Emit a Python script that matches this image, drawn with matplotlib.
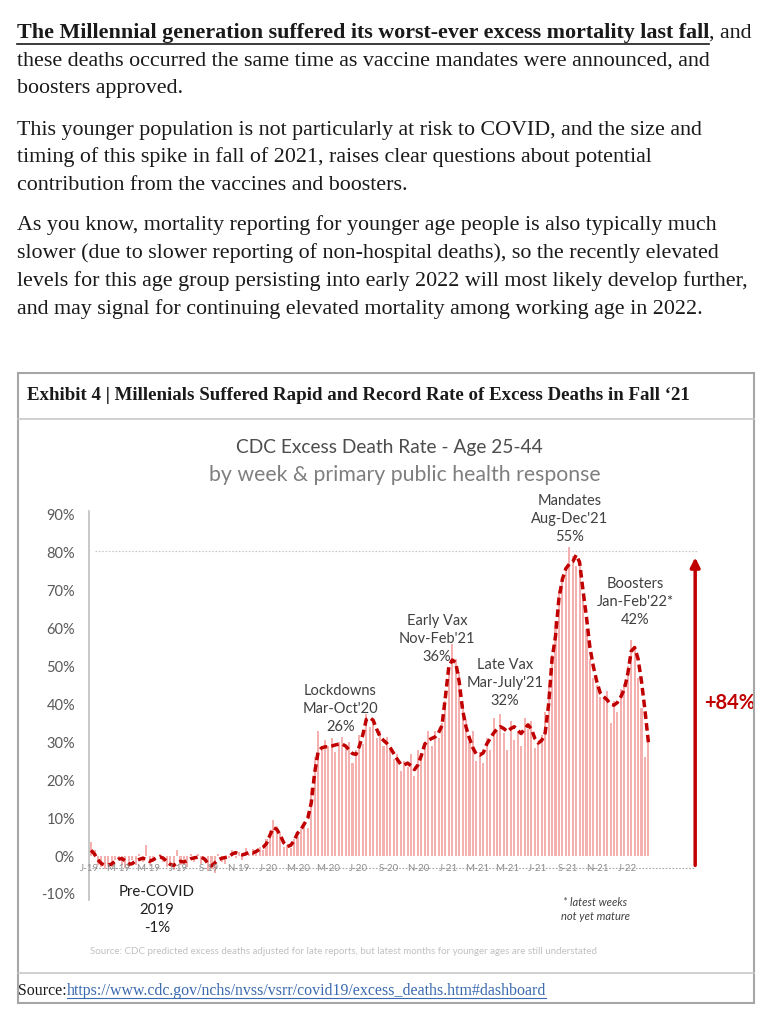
import matplotlib
matplotlib.use("Agg")
import matplotlib.pyplot as plt
import numpy as np
import pandas as pd
from matplotlib.lines import Line2D
from matplotlib.patches import Rectangle

# weekly excess death rate, age 25-44 (%), weeks from Jan 5 2019
bar_values = [
    3.8, 1.5, -2.5, -3.0, -3.5, -2.0, -3.0, -1.0, -0.5, -2.5,
    -3.2, -3.0, -1.0, -2.5, 0.5, -1.5, 2.8, -2.5, -1.5, 0.0,
    0.5, -1.5, -3.0, -2.5, -3.8, 1.5, -2.5, -1.0, -3.0, 0.5,
    -1.5, 0.5, -2.0, 0.0, -4.0, -3.5, -4.5, 0.5, -1.5, -2.0,
    -0.5, 1.5, -0.5, 1.0, -1.0, 2.0, 0.5, 1.8, 0.8, 2.5,
    1.5, 4.5, 6.5, 9.5, 8.0, 6.0, 2.5, 3.0, 2.0, 4.5,
    5.0, 7.0, 9.0, 7.5, 18.0, 26.0, 33.0, 28.0, 30.5, 29.0,
    31.0, 27.5, 30.0, 31.5, 28.5, 30.0, 24.5, 28.0, 32.0, 29.5,
    37.5, 34.0, 36.0, 31.0, 33.0, 29.0, 31.5, 28.0, 25.5, 27.0,
    22.5, 25.0, 23.5, 27.0, 21.0, 28.0, 25.5, 30.0, 33.0, 29.0,
    33.0, 31.0, 35.0, 41.0, 49.0, 56.0, 52.0, 48.5, 40.0, 36.0,
    30.0, 33.0, 25.0, 27.5, 24.5, 31.0, 28.0, 36.5, 33.0, 37.5,
    32.5, 28.0, 35.5, 30.5, 33.0, 29.0, 36.5, 33.5, 35.5, 28.5,
    30.0, 32.0, 38.0, 45.0, 53.0, 62.0, 70.0, 73.0, 76.0, 81.5,
    79.0, 76.5, 78.0, 68.0, 60.0, 52.0, 47.0, 45.0, 42.0, 41.5,
    43.5, 35.0, 41.0, 38.0, 44.0, 45.5, 50.0, 57.0, 55.0, 47.0,
    39.0, 26.0, 30.0,
]

# smoothed trend (dashed line)
trend_values = [
    1.5, 0.5, -1.0, -2.0, -2.4, -2.4, -2.1, -1.4, -0.8, -0.7,
    -1.3, -2.2, -2.0, -1.2, -0.9, -0.6, -0.8, -1.4, -1.0, -0.5,
    -0.2, -0.6, -1.4, -2.2, -2.5, -1.8, -1.4, -1.6, -1.2, -0.7,
    -0.5, -0.3, -0.3, -0.8, -2.0, -2.6, -1.8, -1.0, -0.6, -0.4,
    -0.2, 0.5, 0.9, 0.5, 0.3, 0.6, 1.0, 0.8, 1.2, 1.8,
    2.3, 3.3, 5.5, 7.5, 7.0, 5.5, 3.5, 2.5, 2.8, 4.0,
    6.0, 7.0, 8.5, 10.0, 14.0, 22.0, 27.5, 28.5, 28.8, 28.8,
    29.0, 29.3, 29.5, 29.5, 29.0, 28.0, 27.0, 26.8, 29.0, 32.0,
    36.0, 36.5, 35.8, 33.5, 31.5, 30.5, 29.7, 28.5, 27.0, 25.5,
    24.2, 24.0, 24.5, 23.8, 22.8, 24.0, 26.5, 29.5, 30.5, 31.0,
    31.4, 32.5, 34.4, 42.0, 50.0, 51.7, 51.0, 46.0, 38.5, 34.0,
    31.0, 28.5, 26.8, 26.6, 27.2, 29.5, 31.0, 32.4, 33.5, 34.1,
    33.6, 32.8, 33.6, 34.1, 33.2, 32.3, 33.5, 34.6, 33.5, 31.0,
    29.8, 30.5, 32.5, 40.0, 52.0, 58.0, 68.0, 73.0, 75.8, 77.0,
    77.6, 79.4, 77.5, 70.0, 63.0, 55.0, 50.0, 46.0, 43.0, 42.0,
    41.2, 40.0, 39.8, 40.5, 42.0, 44.0, 48.0, 54.0, 55.0, 52.0,
    46.0, 38.5, 30.0,
]

tick_labels = ["J-19", "M-19", "M-19", "J-19", "S-19", "N-19",
               "J-20", "M-20", "M-20", "J-20", "S-20", "N-20",
               "J-21", "M-21", "M-21", "J-21", "S-21", "N-21", "J-22"]
ytick_values = [-10, 0, 10, 20, 30, 40, 50, 60, 70, 80, 90]

phases = [
    ("Lockdowns\nMar-Oct'20\n26%", 72.4, 38.8),
    ("Early Vax\nNov-Feb'21\n36%", 100.6, 57.3),
    ("Late Vax\nMar-July'21\n32%", 120.3, 45.6),
    ("Mandates\nAug-Dec'21\n55%", 139.2, 88.9),
    ("Boosters\nJan-Feb'22*\n42%", 158.1, 67.0),
]

W, H = 775, 1024
fig = plt.figure(figsize=(7.75, 10.24), dpi=100)


def fx(x):
    return x / W


def fy(y):
    return 1 - y / H


serif = "Liberation Serif"
sans = "Lato"
ink = "#1a1a1a"
body = 15.8

# ---- document text above the exhibit ----
r = fig.canvas.get_renderer()
t = fig.text(fx(17), fy(33), "The Millennial generation suffered its worst-ever excess mortality last fall",
             family=serif, weight="bold", fontsize=body, color=ink, va="center")
bb = t.get_window_extent(r)
fig.add_artist(Line2D([bb.x0 / W, bb.x1 / W], [(bb.y0 - 1) / H] * 2, color=ink, lw=1.2))
fig.text(bb.x1 / W, fy(33), ", and", family=serif, fontsize=body, color=ink, va="center")

lines = [
    (61, "these deaths occurred the same time as vaccine mandates were announced, and"),
    (88, "boosters approved."),
    (130, "This younger population is not particularly at risk to COVID, and the size and"),
    (157, "timing of this spike in fall of 2021, raises clear questions about potential"),
    (185, "contribution from the vaccines and boosters."),
    (225, "As you know, mortality reporting for younger age people is also typically much"),
    (253, "slower (due to slower reporting of non-hospital deaths), so the recently elevated"),
    (281, "levels for this age group persisting into early 2022 will most likely develop further,"),
    (309, "and may signal for continuing elevated mortality among working age in 2022."),
]
for y, s in lines:
    fig.text(fx(17), fy(y), s, family=serif, fontsize=body, color=ink, va="center")

# ---- exhibit frame ----
fig.add_artist(Rectangle((fx(18), fy(1003)), fx(754) - fx(18), fy(373) - fy(1003),
                         transform=fig.transFigure, fill=False, ec="#a6a6a6", lw=1.5))
for y in (419, 973):
    fig.add_artist(Line2D([fx(18), fx(754)], [fy(y)] * 2, color="#c8c8c8", lw=1.2))
fig.text(fx(27), fy(396), "Exhibit 4 | Millenials Suffered Rapid and Record Rate of Excess Deaths in Fall \u201821",
         family=serif, weight="bold", fontsize=13.6, color=ink, va="center")

t = fig.text(fx(18), fy(991), "Source:", family=serif, fontsize=11.4, color=ink, va="center")
bb = t.get_window_extent(r)
t2 = fig.text(bb.x1 / W, fy(991), "https://www.cdc.gov/nchs/nvss/vsrr/covid19/excess_deaths.htm#dashboard",
              family=serif, fontsize=11.4, color="#3a6ab0", va="center")
bb2 = t2.get_window_extent(r)
fig.add_artist(Line2D([bb2.x0 / W, bb2.x1 / W], [(bb2.y0 + 1) / H] * 2, color="#3a6ab0", lw=0.8))

# ---- chart titles ----
fig.text(fx(389), fy(447), "CDC Excess Death Rate - Age 25-44", family=sans, fontsize=13.8,
         color="#4d4d4d", ha="center", va="center")
fig.text(fx(405), fy(475), "by week & primary public health response", family=sans, fontsize=15.3,
         color="#7f7f7f", ha="center", va="center")

# ---- chart ----
ax = fig.add_axes([fx(89), fy(899.6), (700 - 89) / W, (899.6 - 511) / H])
weeks = np.arange(len(bar_values))
ax.bar(weeks, bar_values, width=0.6, color="#f5b0b0", zorder=2)
ax.plot(weeks, trend_values, color="#c00000", lw=2.5, ls=(0, (2.2, 1.2)), zorder=3)

ax.set_xlim(-0.6, 177.0)
ax.set_ylim(-11.5, 91)
for s in ("top", "right", "bottom"):
    ax.spines[s].set_visible(False)
ax.spines["left"].set_color("#bfbfbf")
ax.spines["left"].set_linewidth(1.2)
ax.set_xticks([])
ax.set_yticks(ytick_values)
ax.set_yticklabels([f"{v}%" for v in ytick_values], family=sans, fontsize=10.5, color="#595959")
ax.tick_params(axis="y", length=0, pad=10)

# month labels along the dotted baseline
first_week = pd.Timestamp("2019-01-05")
month_starts = pd.date_range("2019-01-01", periods=len(tick_labels), freq="2MS")
ax.plot([0.3, 175.6], [-3.2, -3.2], color="#a6a6a6", lw=0.8, ls=(0, (1.5, 1.5)), zorder=1)
for lab, d in zip(tick_labels, month_starts):
    pos = (d - first_week).days / 7
    ax.text(pos, -3.2, lab, family=sans, fontsize=7, color="#8c8c8c", ha="center", va="center", zorder=4)

ax.plot([1, 176], [80.5, 80.5], color="#c8c8c8", lw=0.8, ls=(0, (1.5, 1.5)), zorder=1)

ax.annotate("", xy=(175.6, 79.5), xytext=(175.6, -3.2),
            arrowprops=dict(arrowstyle="-|>", color="#c00000", lw=2.5, mutation_scale=14))
ax.text(185.6, 40.4, "+84%", family=sans, weight="bold", fontsize=14.5, color="#c00000",
        ha="center", va="center", clip_on=False)

for label, x, y in phases:
    ax.text(x, y, label, family=sans, fontsize=10.5, color="#404040", ha="center", va="center",
            linespacing=1.35, clip_on=False)

ax.text(19.2, -14.2, "Pre-COVID\n2019\n-1%", family=sans, fontsize=10.8, color="#1f1f1f",
        ha="center", va="center", linespacing=1.35, clip_on=False)
ax.text(146.5, -14.2, "* latest weeks\nnot yet mature", family=sans, style="italic", fontsize=8,
        color="#404040", ha="center", va="center", linespacing=1.3, clip_on=False)

fig.text(fx(90), fy(951), "Source: CDC predicted excess deaths adjusted for late reports, but latest months for younger ages are still understated",
         family=sans, fontsize=7, color="#c0c0c0", va="center")

fig.savefig("out.png", dpi=100)
